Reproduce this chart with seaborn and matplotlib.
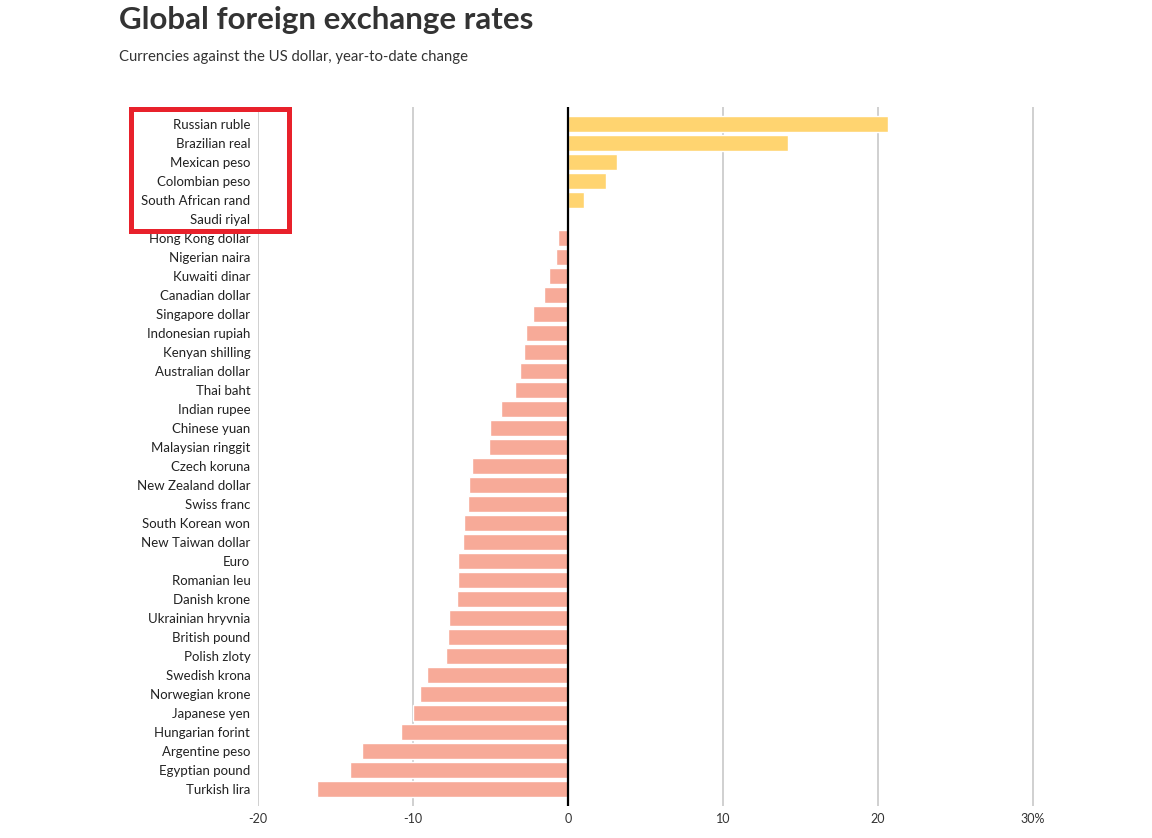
import matplotlib

matplotlib.use("Agg")
import matplotlib.pyplot as plt  # noqa: E402
import matplotlib.patches as mpatches  # noqa: E402
import seaborn as sns  # noqa: E402
import pandas as pd  # noqa: E402

# Year-to-date change against the US dollar (%).
CURRENCIES = [
    "Russian ruble", "Brazilian real", "Mexican peso", "Colombian peso",
    "South African rand", "Saudi riyal", "Hong Kong dollar", "Nigerian naira",
    "Kuwaiti dinar", "Canadian dollar", "Singapore dollar", "Indonesian rupiah",
    "Kenyan shilling", "Australian dollar", "Thai baht", "Indian rupee",
    "Chinese yuan", "Malaysian ringgit", "Czech koruna", "New Zealand dollar",
    "Swiss franc", "South Korean won", "New Taiwan dollar", "Euro",
    "Romanian leu", "Danish krone", "Ukrainian hryvnia", "British pound",
    "Polish zloty", "Swedish krona", "Norwegian krone", "Japanese yen",
    "Hungarian forint", "Argentine peso", "Egyptian pound", "Turkish lira",
]
CHANGE = [
    20.67, 14.19, 3.16, 2.48, 1.01, 0.0, -0.65, -0.75,
    -1.2, -1.55, -2.26, -2.71, -2.84, -3.12, -3.42, -4.32,
    -5.03, -5.1, -6.21, -6.37, -6.43, -6.69, -6.75, -7.1,
    -7.12, -7.16, -7.66, -7.72, -7.9, -9.1, -9.57, -10.02,
    -10.8, -13.3, -14.05, -16.2,
]
X_TICKS = [-20, -10, 0, 10, 20, 30]
X_TICK_LABELS = ["-20", "-10", "0", "10", "20", "30%"]

UP_COLOR = "#ffd470"
DOWN_COLOR = "#f7aa98"

sns.set_theme(style="white")
plt.rcParams["font.family"] = ["Lato", "DejaVu Sans"]

df = pd.DataFrame({"currency": CURRENCIES, "change": CHANGE})
df["direction"] = ["up" if v >= 0 else "down" for v in df["change"]]

fig = plt.figure(figsize=(11.52, 8.38), dpi=100)
ax = fig.add_axes([258 / 1152, 1 - 806 / 838, (1048.5 - 258) / 1152, (806 - 107) / 838])

# Grid first so bars sit on top of it.
for t in X_TICKS:
    if t != 0:
        ax.axvline(t, color="#c4c4c4", lw=1.1, zorder=0)

sns.barplot(
    data=df, x="change", y="currency", hue="direction",
    palette={"up": UP_COLOR, "down": DOWN_COLOR},
    dodge=False, legend=False, width=0.84, saturation=1, ax=ax, zorder=2,
)
ax.axvline(0, color="black", lw=1.6, zorder=3)

ax.set_xlim(-20, 31)
ax.set_ylim(35.9, -0.9)
ax.set_xticks(X_TICKS)
ax.set_xticklabels(X_TICK_LABELS)
ax.set_xlabel("")
ax.set_ylabel("")
ax.tick_params(axis="x", length=0, pad=5, labelsize=9, labelcolor="#333333")
ax.tick_params(axis="y", length=0, pad=5.5, labelsize=9.5, labelcolor="#222222")
for s in ax.spines.values():
    s.set_visible(False)

fig.text(119 / 1152, 1 - 20 / 838, "Global foreign exchange rates",
         fontsize=22.5, fontweight="bold", color="#333333", va="center", ha="left")
fig.text(119 / 1152, 1 - 57 / 838, "Currencies against the US dollar, year-to-date change",
         fontsize=10.7, color="#333333", va="center", ha="left")

# Red highlight box around the top labels.
box = mpatches.Rectangle(
    (130.5 / 1152, 1 - 231 / 838), (289 - 130.5) / 1152, (231 - 109.5) / 838,
    transform=fig.transFigure, fill=False, edgecolor="#e8212b", lw=3.6, zorder=10,
)
fig.patches.append(box)

fig.savefig("out.png", dpi=100)
plt.close(fig)
